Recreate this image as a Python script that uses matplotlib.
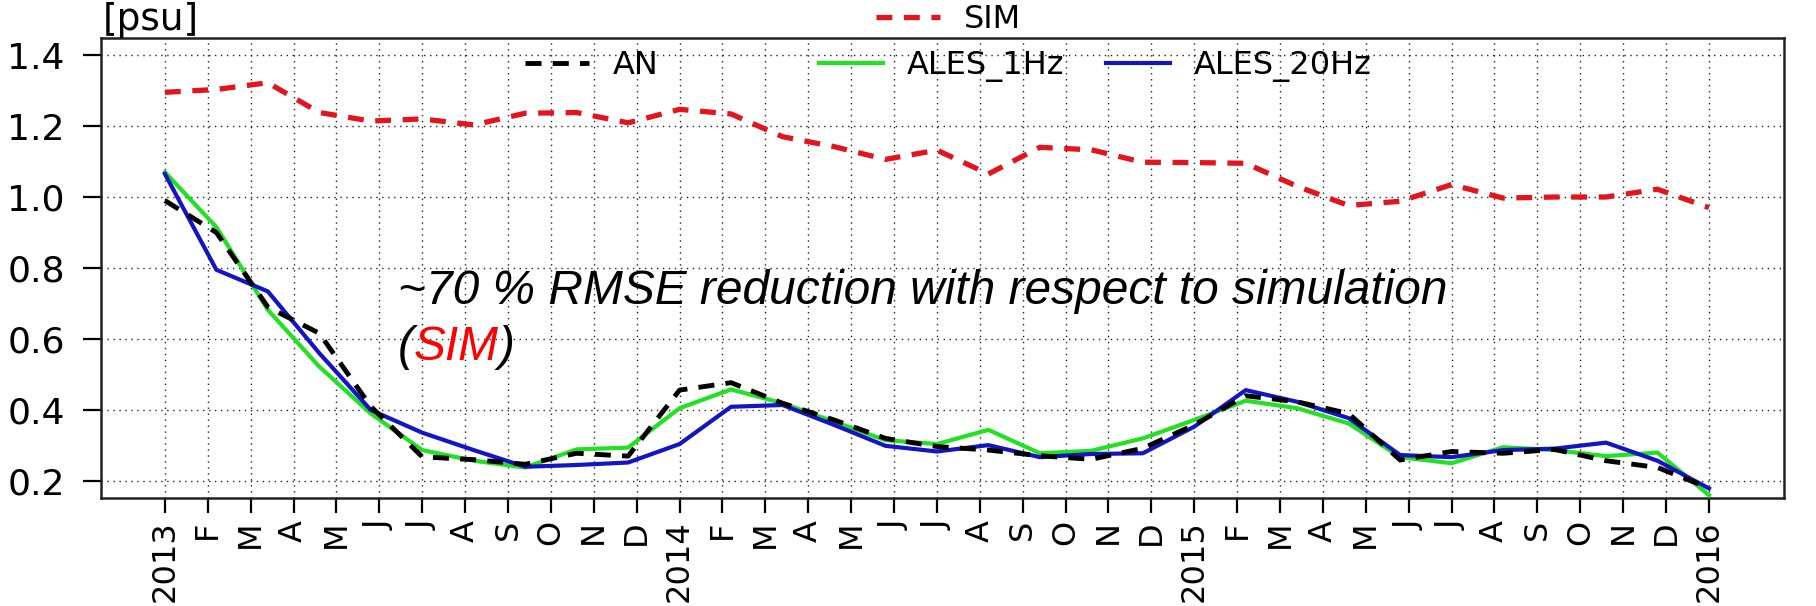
import numpy as np
import matplotlib
matplotlib.use("Agg")
import matplotlib.pyplot as plt

# ---------------- data ----------------
month_labels = ["2013", "F", "M", "A", "M", "J", "J", "A", "S", "O", "N", "D",
                "2014", "F", "M", "A", "M", "J", "J", "A", "S", "O", "N", "D",
                "2015", "F", "M", "A", "M", "J", "J", "A", "S", "O", "N", "D",
                "2016"]
# 31 samples evenly spread from Jan 2013 to Jan 2016 (in months)
sample_month = np.linspace(0, 36, 31)

sim = [1.295, 1.303, 1.322, 1.238, 1.214, 1.220, 1.203, 1.236, 1.238, 1.209,
       1.247, 1.234, 1.170, 1.142, 1.106, 1.132, 1.065, 1.140, 1.133, 1.098,
       1.097, 1.095, 1.030, 0.976, 0.988, 1.035, 0.997, 1.000, 1.000, 1.022,
       0.970]
an = [0.990, 0.900, 0.690, 0.616, 0.410, 0.268, 0.260, 0.247, 0.278, 0.270,
      0.456, 0.477, 0.419, 0.372, 0.320, 0.297, 0.287, 0.271, 0.261, 0.292,
      0.358, 0.440, 0.423, 0.390, 0.259, 0.283, 0.278, 0.289, 0.257, 0.238,
      0.180]
ales_1hz = [1.070, 0.915, 0.682, 0.522, 0.390, 0.287, 0.257, 0.238, 0.289, 0.294,
            0.405, 0.458, 0.419, 0.367, 0.315, 0.304, 0.344, 0.278, 0.285, 0.320,
            0.372, 0.426, 0.405, 0.362, 0.267, 0.250, 0.295, 0.287, 0.270, 0.280,
            0.160]
ales_20hz = [1.065, 0.795, 0.734, 0.560, 0.400, 0.336, 0.287, 0.240, 0.245, 0.252,
             0.304, 0.409, 0.414, 0.358, 0.299, 0.283, 0.301, 0.267, 0.276, 0.278,
             0.353, 0.456, 0.423, 0.377, 0.273, 0.267, 0.287, 0.291, 0.308, 0.257,
             0.179]
y_ticks = [0.2, 0.4, 0.6, 0.8, 1.0, 1.2, 1.4]
annotation = "~70 % RMSE reduction with respect to simulation"

# ---------------- figure ----------------
W, H = 1816, 606
fig = plt.figure(figsize=(W / 100, H / 100), dpi=100)
fig.patch.set_facecolor("white")

L, R, T, B = 101, 1784, 38, 498
ax = fig.add_axes([L / W, 1 - B / H, (R - L) / W, (B - T) / H])

RED = "#e3141e"
GREEN = "#22e022"
BLUE = "#1414c4"

ax.plot(sample_month, sim, color=RED, lw=3.8, dashes=(3.0, 2.2), zorder=3,
        label="SIM", dash_capstyle="butt")
ax.plot(sample_month, ales_1hz, color=GREEN, lw=3.0, zorder=4, label="ALES_1Hz")
ax.plot(sample_month, ales_20hz, color=BLUE, lw=3.0, zorder=5, label="ALES_20Hz")
ax.plot(sample_month, an, color="black", lw=3.5, dashes=(3.3, 2.3), zorder=6,
        label="AN", dash_capstyle="butt")

ax.set_xlim(-1.49, 37.75)
ax.set_ylim(0.152, 1.448)

ax.set_xticks(np.arange(len(month_labels)))
ax.set_xticklabels(month_labels, rotation=90, fontsize=23, family="DejaVu Sans",
                   va="top", ha="center")
ax.set_yticks(y_ticks)
ax.set_yticklabels([f"{v:.1f}" for v in y_ticks], fontsize=26, family="DejaVu Sans")
ax.tick_params(axis="x", length=11, width=1.6, pad=5, direction="out")
ax.tick_params(axis="y", length=13, width=1.6, pad=13, direction="out")

ax.grid(True, color="#222222", lw=1.0, dashes=(1, 3.3), zorder=0)
ax.set_axisbelow(True)
for s in ax.spines.values():
    s.set_linewidth(1.8)
    s.set_color("#222222")

# unit label
fig.text(103 / W, 1 - 38 / H, "[psu]", fontsize=27, family="DejaVu Sans",
         ha="left", va="bottom")

# legends
h = {ln.get_label(): ln for ln in ax.get_lines()}
common = dict(frameon=False, handlelength=2.0, handletextpad=0.75,
              borderpad=0, borderaxespad=0, loc="center left",
              prop={"family": "DejaVu Sans", "size": 23})
fig.legend([h["SIM"]], ["SIM"], bbox_to_anchor=(876 / W, 1 - 20 / H), **common)
fig.legend([h["AN"]], ["AN"], bbox_to_anchor=(525 / W, 1 - 66 / H), **common)
fig.legend([h["ALES_1Hz"]], ["ALES_1Hz"], bbox_to_anchor=(819 / W, 1 - 66 / H), **common)
fig.legend([h["ALES_20Hz"]], ["ALES_20Hz"], bbox_to_anchor=(1106 / W, 1 - 66 / H), **common)

# annotation
tfont = dict(fontsize=34.5, style="italic", family="Liberation Sans", va="baseline", ha="left")
fig.text(398 / W, 1 - 304 / H, annotation, color="black", **tfont)
y2 = 1 - 360 / H
t_open = fig.text(398 / W, y2, "(", color="black", **tfont)
fig.canvas.draw()
x_next = t_open.get_window_extent().x1 / fig.bbox.width
t_sim = fig.text(x_next, y2, "SIM", color="red", **tfont)
fig.canvas.draw()
x_next = t_sim.get_window_extent().x1 / fig.bbox.width
fig.text(x_next, y2, ")", color="black", **tfont)

fig.savefig("out.png", dpi=100, facecolor="white")
